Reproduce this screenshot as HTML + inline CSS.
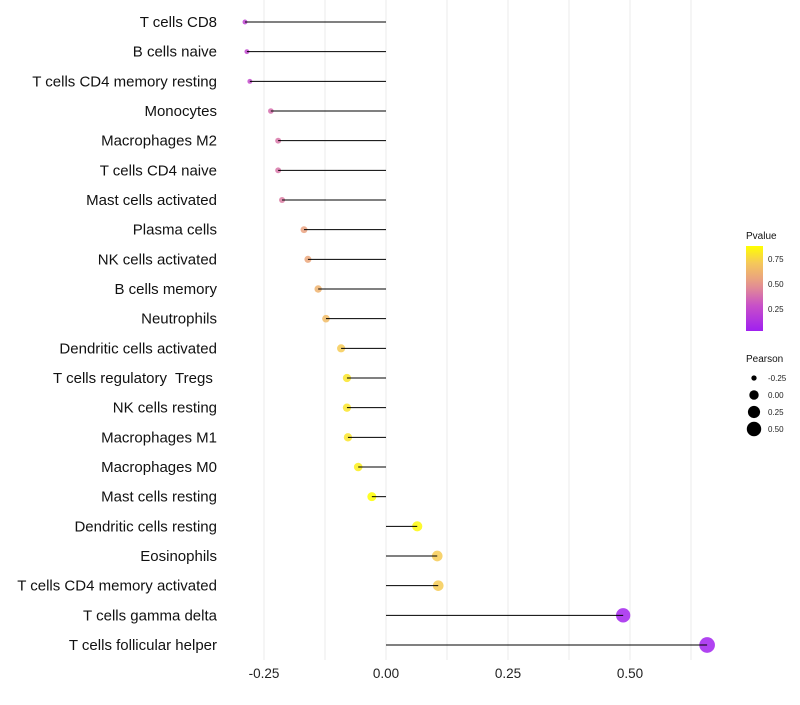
<!DOCTYPE html>
<html><head><meta charset="utf-8"><style>
body{margin:0;background:#fff;font-family:"Liberation Sans",sans-serif}
text{white-space:pre}
</style></head><body>
<svg id="c" width="800" height="700"></svg>
<script>
const categories=["T cells CD8","B cells naive","T cells CD4 memory resting","Monocytes","Macrophages M2","T cells CD4 naive","Mast cells activated","Plasma cells","NK cells activated","B cells memory","Neutrophils","Dendritic cells activated","T cells regulatory  Tregs ","NK cells resting","Macrophages M1","Macrophages M0","Mast cells resting","Dendritic cells resting","Eosinophils","T cells CD4 memory activated","T cells gamma delta","T cells follicular helper"];
const pearson=[-0.289,-0.285,-0.279,-0.236,-0.221,-0.221,-0.213,-0.168,-0.160,-0.139,-0.123,-0.092,-0.080,-0.080,-0.078,-0.057,-0.029,0.064,0.105,0.107,0.486,0.658];
const pvalue=[0.22,0.24,0.26,0.38,0.4,0.4,0.42,0.55,0.57,0.62,0.66,0.72,0.8,0.8,0.8,0.83,0.88,0.86,0.72,0.72,0.05,0.04];
const xTicks=[-0.25,0,0.25,0.5];
const xTickLabels=["-0.25","0.00","0.25","0.50"];
const legP=[0.75,0.5,0.25];
const legR=[-0.25,0,0.25,0.5];
const NS="http://www.w3.org/2000/svg",svg=document.getElementById('c');
function el(t,a,p){const e=document.createElementNS(NS,t);for(const k in a)e.setAttribute(k,a[k]);(p||svg).appendChild(e);return e;}
const X=v=>386+v*488, Y=i=>22+i*(623/21);
const R=v=>Math.sqrt(Math.max(6,22+60*v));
const stops=[[0,[160,32,240]],[0.3,[200,80,200]],[0.55,[230,150,140]],[0.8,[245,200,90]],[1,[255,255,0]]];
function col(p){const t=Math.min(1,Math.max(0,(p-0.03)/0.85));for(let i=1;i<stops.length;i++){if(t<=stops[i][0]){const a=stops[i-1],b=stops[i],f=(t-a[0])/(b[0]-a[0]);return 'rgb('+a[1].map((c,j)=>Math.round(c+(b[1][j]-c)*f)).join(',')+')';}}return 'rgb(255,255,0)';}
[-0.125,0.125,0.375,0.625].concat(xTicks).forEach(v=>{const g=el('line',{x1:X(v),x2:X(v),y1:0,y2:660,stroke:'#ebebeb','stroke-width':1});
});
xTicks.forEach((v,i)=>{const t=el('text',{x:X(v),y:678,'text-anchor':'middle','font-size':13.5,fill:'#222'});t.textContent=xTickLabels[i];
});
categories.forEach((c,i)=>{const y=Y(i);
const t=el('text',{x:217,y:y+5,'text-anchor':'end','font-size':15,fill:'#111'});t.textContent=c;

const p=el('circle',{cx:X(pearson[i]),cy:y,r:R(pearson[i]),fill:col(pvalue[i]),'fill-opacity':0.85});

const l=el('line',{x1:X(0),x2:X(pearson[i]),y1:y,y2:y,stroke:'#000','stroke-width':1});
});
const defs=el('defs',{});const lg=el('linearGradient',{id:'g',x1:0,y1:1,x2:0,y2:0},defs);
for(let k=0;k<=10;k++){el('stop',{offset:k/10,'stop-color':col(0.03+0.85*k/10)},lg);}
const tt=el('text',{x:746,y:239,'font-size':10,fill:'#111'});tt.textContent='Pvalue';

const cb=el('rect',{x:746,y:246,width:17,height:85,fill:'url(#g)'});

legP.forEach(v=>{const y=331-(v-0.03)*100;const t=el('text',{x:768,y:y+3,'font-size':8,fill:'#222'});t.textContent=v.toFixed(2);
});
const t2=el('text',{x:746,y:362,'font-size':10,fill:'#111'});t2.textContent='Pearson';

legR.forEach((v,i)=>{const y=378+i*17;const c=el('circle',{cx:754,cy:y,r:R(v),fill:'#000'});

const t=el('text',{x:768,y:y+3,'font-size':8,fill:'#222'});t.textContent=v.toFixed(2);
});
</script></body></html>
